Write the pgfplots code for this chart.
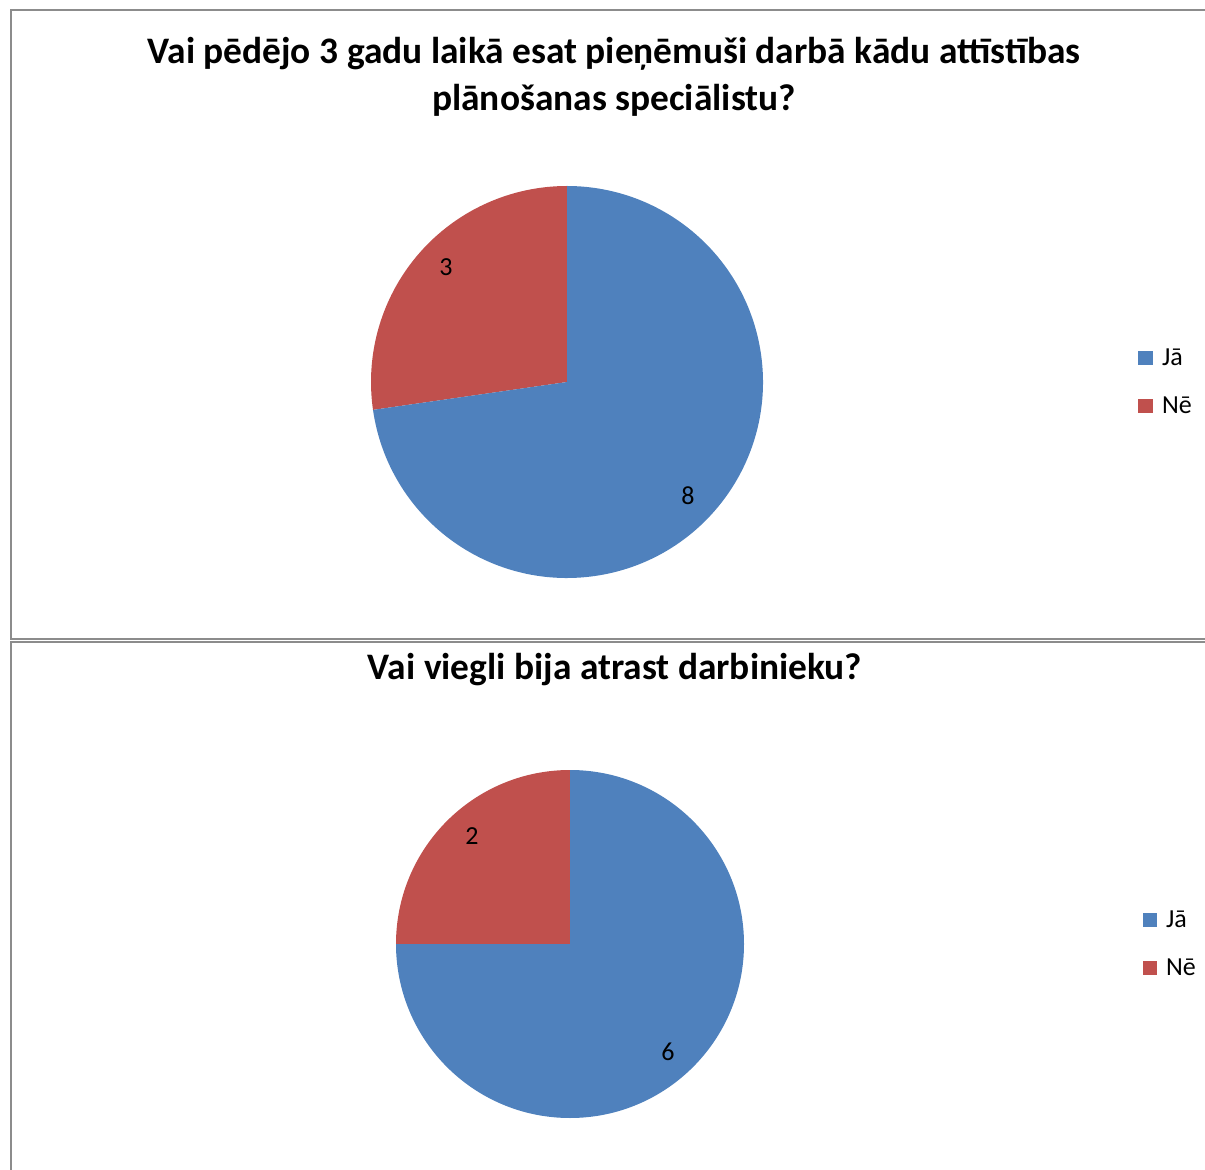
\documentclass[border=0pt]{standalone}
\usepackage{pgfplots}
\pgfplotsset{compat=1.18}
\usepackage{pgfplotstable}
\usepackage{fontspec}
\setmainfont{Carlito}
\definecolor{ja}{HTML}{4F81BD}
\definecolor{ne}{HTML}{C0504D}
\definecolor{frame}{HTML}{8C8C8C}
\pgfplotstableread{
label value
Ja 8
Ne 3
}\tableA
\pgfplotstableread{
label value
Ja 6
Ne 2
}\tableB
\begin{document}
\begin{tikzpicture}
\begin{axis}[
  at={(0,0)}, anchor=south west,
  width=602.5pt, height=584.5pt, scale only axis,
  xmin=0, xmax=1205, ymin=0, ymax=1169,
  axis lines=none, clip=false, enlargelimits=false,
]
% frames
\draw[frame, line width=1.3pt] (axis cs:1215,530) -- (axis cs:11,530) -- (axis cs:11,1159) -- (axis cs:1215,1159);
\draw[frame, line width=1.3pt] (axis cs:1215,527) -- (axis cs:11,527) -- (axis cs:11,-10);
% top pie
\pgfplotstablegetelem{0}{value}\of\tableA \pgfmathsetmacro{\aJa}{\pgfplotsretval}
\pgfplotstablegetelem{1}{value}\of\tableA \pgfmathsetmacro{\aNe}{\pgfplotsretval}
\pgfmathsetmacro{\angNeA}{360*\aNe/(\aJa+\aNe)}
\fill[ne] (axis cs:567,787) -- ++(90:98pt) arc[start angle=90, delta angle=\angNeA, radius=98pt] -- cycle;
\fill[ja] (axis cs:567,787) -- ++(90+\angNeA:98pt) arc[start angle=90+\angNeA, end angle=450, radius=98pt] -- cycle;
\node[font=\fontsize{13}{15}\selectfont] at (axis cs:446,902) {3};
\node[font=\fontsize{13}{15}\selectfont] at (axis cs:688,673) {8};
% bottom pie
\pgfplotstablegetelem{0}{value}\of\tableB \pgfmathsetmacro{\bJa}{\pgfplotsretval}
\pgfplotstablegetelem{1}{value}\of\tableB \pgfmathsetmacro{\bNe}{\pgfplotsretval}
\pgfmathsetmacro{\angNeB}{360*\bNe/(\bJa+\bNe)}
\fill[ne] (axis cs:570,225) -- ++(90:87pt) arc[start angle=90, delta angle=\angNeB, radius=87pt] -- cycle;
\fill[ja] (axis cs:570,225) -- ++(90+\angNeB:87pt) arc[start angle=90+\angNeB, end angle=450, radius=87pt] -- cycle;
\node[font=\fontsize{13}{15}\selectfont] at (axis cs:472,333) {2};
\node[font=\fontsize{13}{15}\selectfont] at (axis cs:668,117) {6};
% titles
\node[font=\bfseries\fontsize{18.7}{23.7}\selectfont, align=center] at (axis cs:614,1092) {Vai pēdējo 3 gadu laikā esat pieņēmuši darbā kādu attīstības\\plānošanas speciālistu?};
\node[font=\bfseries\fontsize{18.7}{23.7}\selectfont] at (axis cs:615,499) {Vai viegli bija atrast darbinieku?};
% legends
\fill[ja] (axis cs:1138,804) rectangle (axis cs:1153,818);
\node[anchor=west, font=\fontsize{13}{15}\selectfont] at (axis cs:1155,812) {Jā};
\fill[ne] (axis cs:1138,756) rectangle (axis cs:1153,770);
\node[anchor=west, font=\fontsize{13}{15}\selectfont] at (axis cs:1155,764) {Nē};
\fill[ja] (axis cs:1143,242) rectangle (axis cs:1157,256);
\node[anchor=west, font=\fontsize{13}{15}\selectfont] at (axis cs:1159,250) {Jā};
\fill[ne] (axis cs:1143,194) rectangle (axis cs:1157,208);
\node[anchor=west, font=\fontsize{13}{15}\selectfont] at (axis cs:1159,202) {Nē};
\end{axis}
\pgfresetboundingbox
\path[use as bounding box] (0,0) rectangle (602.5pt,584.5pt);
\end{tikzpicture}
\end{document}
